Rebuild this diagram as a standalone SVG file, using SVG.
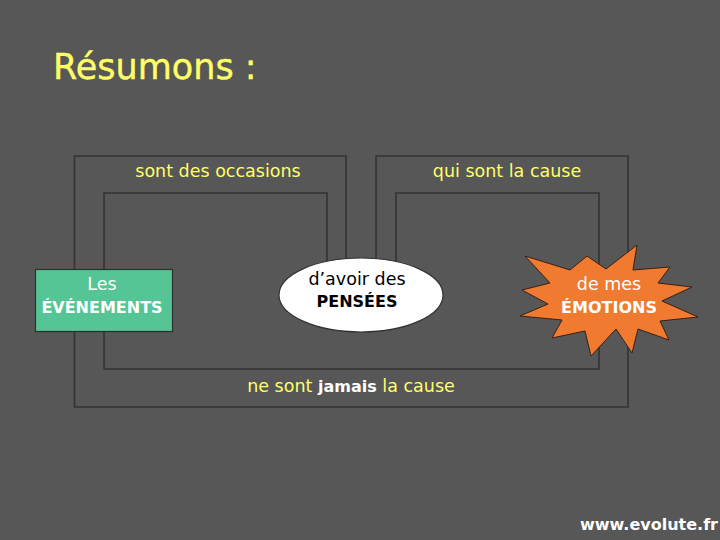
<svg xmlns="http://www.w3.org/2000/svg" width="720" height="540" viewBox="0 0 720 540">
<style>
.t{font-family:"DejaVu Sans","Liberation Sans",sans-serif;font-size:17.5px;text-anchor:middle}
.y{fill:#ffff66}
.w{fill:#ffffff}
.k{fill:#000000}
.b{font-weight:bold;font-size:16px}
.ln{fill:none;stroke:#333333;stroke-width:1.6}
</style>
<rect width="720" height="540" fill="#575757"/>
<text x="53" y="79" font-family="DejaVu Sans,Liberation Sans,sans-serif" font-size="35" fill="#ffff66" stroke="#ffff66" stroke-width="0.4">Résumons :</text>
<g id="connectors">
<path class="ln" d="M346,295 V156 H74.5 V407 H628 V156 H376 V295"/>
<path class="ln" d="M327,295 V193 H104 V369 H599 V193 H396 V295"/>
<text class="t y" x="218" y="177">sont des occasions</text>
<text class="t y" x="507" y="177">qui sont la cause</text>
<text class="t y" x="351" y="392">ne sont <tspan class="w b">jamais</tspan> la cause</text>
</g>
<g id="evenements">
<rect x="35.5" y="269.5" width="137" height="62" fill="#55c595" stroke="#2f2f2f" stroke-width="1.2"/>
<text class="t w" x="102" y="290">Les</text>
<text class="t w b" x="102" y="313">ÉVÉNEMENTS</text>
</g>
<g id="pensees">
<ellipse cx="361" cy="295" rx="82" ry="37" fill="#ffffff" stroke="#333333" stroke-width="1.2"/>
<text class="t k" x="357" y="285">d’avoir des</text>
<text class="t k b" x="357" y="307">PENSÉES</text>
</g>
<g id="emotions">
<polygon points="637,245 633,270 670,267 658,283 692,287 662,301 698,317 660,321 669,340 638,329 632,353 616,329 591,356 585,331 552,338 562,320 520,316 548,304 522,290 550,283 525,256 570,270 587,256 606,269" fill="#f07a30" stroke="#3a2010" stroke-width="1"/>
<text class="t w" x="609" y="290">de mes</text>
<text class="t w b" x="609" y="313">ÉMOTIONS</text>
</g>
<text x="580" y="530" font-family="DejaVu Sans,Liberation Sans,sans-serif" font-size="16" font-weight="bold" fill="#ffffff">www.evolute.fr</text>
</svg>
